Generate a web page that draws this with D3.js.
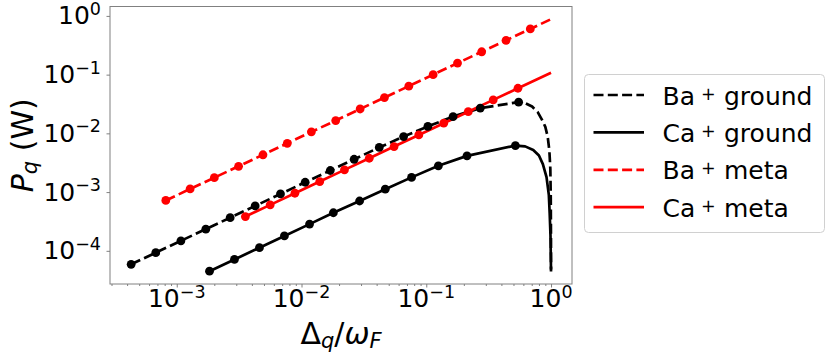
<!DOCTYPE html>
<html>
<head>
<meta charset="utf-8">
<script src="https://cdn.jsdelivr.net/npm/d3@7"></script>
<style>
	body { margin: 0; background: #fff; }
	svg { display: block; font-family: "DejaVu Sans", sans-serif; }
</style>
</head>
<body>
<div id="g-container"></div>
<script>

	// Ba+ ground (black dashed): marked points, then the unmarked tail to x = 1
	var baGroundX = [4.31e-4, 6.79e-4, 1.08e-3, 1.71e-3, 2.68e-3, 4.25e-3, 6.78e-3, 1.07e-2, 1.70e-2, 2.64e-2, 4.20e-2, 6.58e-2, 0.103, 0.164, 0.271, 0.550];
	var baGroundY = [5.90e-5, 9.30e-5, 1.48e-4, 2.34e-4, 3.67e-4, 5.82e-4, 9.29e-4, 1.47e-3, 2.33e-3, 3.62e-3, 5.75e-3, 8.83e-3, 1.31e-2, 1.93e-2, 2.69e-2, 3.40e-2];
	var baGroundTailX = [0.62, 0.705, 0.78, 0.847, 0.90, 0.94, 0.97, 0.987, 0.995, 0.999, 0.9998];
	var baGroundTailY = [3.28e-2, 2.86e-2, 2.32e-2, 1.70e-2, 1.29e-2, 8.8e-3, 5.0e-3, 2.5e-3, 8.0e-4, 1.5e-4, 4.8e-5];

	// Ca+ ground (black solid)
	var caGroundX = [1.83e-3, 2.90e-3, 4.60e-3, 7.29e-3, 1.16e-2, 1.80e-2, 2.92e-2, 4.69e-2, 7.62e-2, 0.125, 0.212, 0.518];
	var caGroundY = [4.50e-5, 7.13e-5, 1.13e-4, 1.79e-4, 2.85e-4, 4.45e-4, 7.05e-4, 1.12e-3, 1.78e-3, 2.80e-3, 4.14e-3, 6.19e-3];
	var caGroundTailX = [0.62, 0.72, 0.80, 0.86, 0.92, 0.96, 0.975, 0.99, 0.9996];
	var caGroundTailY = [6.0e-3, 5.2e-3, 4.2e-3, 3.0e-3, 1.8e-3, 9.0e-4, 4.4e-4, 1.8e-4, 4.45e-5];

	// Ba+ meta (red dashed)
	var baMetaX = [8.17e-4, 1.28e-3, 2.00e-3, 3.13e-3, 4.91e-3, 7.69e-3, 1.20e-2, 1.88e-2, 2.95e-2, 4.62e-2, 7.24e-2, 0.1135, 0.178, 0.278, 0.436, 0.682];
	var baMetaY = [7.2e-4, 1.13e-3, 1.76e-3, 2.75e-3, 4.32e-3, 6.77e-3, 1.06e-2, 1.65e-2, 2.60e-2, 4.07e-2, 6.37e-2, 0.0999, 0.157, 0.245, 0.384, 0.600];
	var baMetaTailX = [1.0];
	var baMetaTailY = [0.88];

	// Ca+ meta (red solid)
	var caMetaX = [3.55e-3, 5.61e-3, 8.85e-3, 1.40e-2, 2.21e-2, 3.49e-2, 5.52e-2, 8.71e-2, 0.138, 0.217, 0.344, 0.543];
	var caMetaY = [3.83e-4, 6.06e-4, 9.56e-4, 1.51e-3, 2.39e-3, 3.77e-3, 5.96e-3, 9.41e-3, 1.49e-2, 2.34e-2, 3.72e-2, 5.86e-2];
	var caMetaTailX = [1.0];
	var caMetaTailY = [0.108];

	var seriesNames = ["Ba", "Ca", "Ba", "Ca"];
	var seriesStates = ["ground", "ground", "meta", "meta"];

	var xTickExps = [-3, -2, -1, 0];
	var yTickExps = [0, -1, -2, -3, -4];
	var xDomain = [Math.pow(10, -3.535), Math.pow(10, 0.168)];
	var yDomain = [Math.pow(10, -4.565), Math.pow(10, 0.16)];

	var W = 831, H = 359;
	var plot = {left: 110, right: 572, top: 6.5, bottom: 284};

	var series = [
		{marks: d3.zip(baGroundX, baGroundY), tail: d3.zip(baGroundTailX, baGroundTailY), color: "#000", dash: "10,4.3"},
		{marks: d3.zip(caGroundX, caGroundY), tail: d3.zip(caGroundTailX, caGroundTailY), color: "#000", dash: null},
		{marks: d3.zip(baMetaX, baMetaY), tail: d3.zip(baMetaTailX, baMetaTailY), color: "#ff0000", dash: "10,4.3"},
		{marks: d3.zip(caMetaX, caMetaY), tail: d3.zip(caMetaTailX, caMetaTailY), color: "#ff0000", dash: null}
	];

	var svg = d3.select("#g-container").append("svg").attr("width", W).attr("height", H);

	var x = d3.scaleLog().domain(xDomain).range([plot.left, plot.right]);
	var y = d3.scaleLog().domain(yDomain).range([plot.bottom, plot.top]);

	svg.append("defs").append("clipPath").attr("id", "clip")
		.append("rect").attr("x", plot.left).attr("y", plot.top)
		.attr("width", plot.right - plot.left).attr("height", plot.bottom - plot.top);

	// minor x ticks
	var minor = [];
	for (var k = -4; k <= 0; k++) {
		for (var m = 2; m <= 9; m++) {
			var v = m * Math.pow(10, k);
			if (v > xDomain[0] && v < xDomain[1]) minor.push(v);
		}
	}

	var xAxis = svg.append("g").attr("transform", "translate(0," + plot.bottom + ")")
		.call(d3.axisBottom(x).tickValues(minor).tickSize(2).tickFormat(""));
	var xAxisMajor = svg.append("g").attr("transform", "translate(0," + plot.bottom + ")")
		.call(d3.axisBottom(x).tickValues(xTickExps.map(function(e){ return Math.pow(10, e); })).tickSize(3.5).tickFormat(""));
	var yAxis = svg.append("g").attr("transform", "translate(" + plot.left + ",0)")
		.call(d3.axisLeft(y).tickValues(yTickExps.map(function(e){ return Math.pow(10, e); })).tickSize(3.5).tickFormat(""));

	[xAxis, xAxisMajor, yAxis].forEach(function(a){
		a.select(".domain").remove();
		a.selectAll(".tick line").attr("stroke", "#808080").attr("stroke-width", 1);
	});

	function expText(e) {
		return e < 0 ? "\u2212" + (-e) : "" + e;
	}

	// x tick labels
	xTickExps.forEach(function(e){
		var t = svg.append("text")
			.attr("x", x(Math.pow(10, e)))
			.attr("y", plot.bottom + 23)
			.attr("text-anchor", "middle")
			.style("font-size", "25px")
			.style("fill", "#000");
		t.append("tspan").text("10");
		t.append("tspan").attr("dy", -9).style("font-size", "17.5px").text(expText(e));
	});

	// y tick labels
	yTickExps.forEach(function(e){
		var t = svg.append("text")
			.attr("x", 101)
			.attr("y", y(Math.pow(10, e)) + 8.5)
			.attr("text-anchor", "end")
			.style("font-size", "25px")
			.style("fill", "#000");
		t.append("tspan").text("10");
		t.append("tspan").attr("dy", -9.5).style("font-size", "17.5px").text(expText(e));
	});

	// frame
	svg.append("rect")
		.attr("x", plot.left).attr("y", plot.top)
		.attr("width", plot.right - plot.left).attr("height", plot.bottom - plot.top)
		.attr("fill", "none").attr("stroke", "#808080").attr("stroke-width", 1);

	var line = d3.line()
		.x(function(d){ return x(d[0]); })
		.y(function(d){ return y(d[1]); });

	var g = svg.append("g").attr("clip-path", "url(#clip)");

	series.forEach(function(s){
		g.append("path")
			.attr("d", line(s.marks.concat(s.tail)))
			.attr("fill", "none")
			.attr("stroke", s.color)
			.attr("stroke-width", 2.7)
			.attr("stroke-dasharray", s.dash)
			.attr("stroke-linejoin", "round");
	});

	series.forEach(function(s){
		g.selectAll(null).data(s.marks).enter().append("circle")
			.attr("cx", function(d){ return x(d[0]); })
			.attr("cy", function(d){ return y(d[1]); })
			.attr("r", 4.4)
			.attr("fill", s.color);
	});

	// axis labels
	var xl = svg.append("text")
		.attr("x", (plot.left + plot.right) / 2)
		.attr("y", 343.5)
		.attr("text-anchor", "middle")
		.style("font-size", "30px");
	xl.append("tspan").text("\u0394");
	xl.append("tspan").attr("dy", 4).style("font-size", "21px").style("font-style", "italic").text("q");
	xl.append("tspan").attr("dy", -4).text("/");
	xl.append("tspan").style("font-style", "italic").text("\u03c9");
	xl.append("tspan").attr("dy", 4).style("font-size", "21px").style("font-style", "italic").text("F");

	var yl = svg.append("text")
		.attr("transform", "translate(33," + ((plot.top + plot.bottom) / 2) + ") rotate(-90)")
		.attr("text-anchor", "middle")
		.style("font-size", "30px");
	yl.append("tspan").style("font-style", "italic").text("P");
	yl.append("tspan").attr("dy", 4).style("font-size", "21px").style("font-style", "italic").text("q");
	yl.append("tspan").attr("dy", -4).text("\u00a0(W)");

	// legend
	var legend = svg.append("g");
	legend.append("rect")
		.attr("x", 584.5).attr("y", 74.5).attr("width", 240).attr("height", 158)
		.attr("rx", 4).attr("fill", "#fff").attr("stroke", "#d0d0d0").attr("stroke-width", 1);

	series.forEach(function(s, i){
		var base = 104.5 + i * 37.4;
		legend.append("line")
			.attr("x1", 593.5).attr("x2", 644)
			.attr("y1", base - 9.5).attr("y2", base - 9.5)
			.attr("stroke", s.color).attr("stroke-width", 2.7)
			.attr("stroke-dasharray", s.dash);
		var t = legend.append("text").attr("x", 662.5).attr("y", base).style("font-size", "25px");
		t.append("tspan").text(seriesNames[i]);
		t.append("tspan").attr("x", 701).attr("dy", -5).style("font-size", "17.5px").text("+");
		t.append("tspan").attr("x", 724).attr("dy", 5).text(seriesStates[i]);
	});

</script>
</body>
</html>
